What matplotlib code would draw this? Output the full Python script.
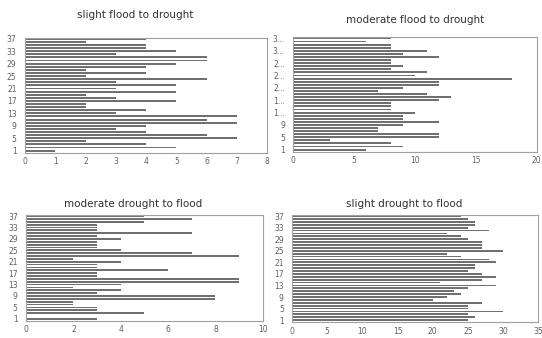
import numpy as np
import matplotlib.pyplot as plt

# bar values for categories 1..37 (bottom to top)
cats = np.arange(1, 38)

slight_flood_drought = [1, 5, 4, 2, 7, 6, 4, 3, 4, 7, 6, 7, 3, 4, 2, 2, 5, 3, 2, 5,
                        3, 5, 3, 6, 2, 4, 2, 4, 5, 6, 6, 3, 5, 4, 4, 2, 4]
moderate_flood_drought = [6, 9, 8, 3, 12, 12, 7, 7, 9, 12, 9, 9, 10, 8, 8, 8, 12, 13, 11, 7,
                          9, 12, 12, 18, 10, 11, 8, 9, 8, 8, 12, 9, 11, 8, 8, 6, 8]
moderate_drought_flood = [3, 0, 5, 3, 3, 2, 2, 8, 8, 3, 4, 2, 4, 9, 9, 3, 3, 6, 3, 3,
                          4, 2, 9, 7, 4, 3, 3, 3, 4, 3, 7, 3, 3, 3, 5, 7, 5]
slight_drought_flood = [25, 26, 25, 30, 25, 25, 27, 20, 22, 24, 23, 25, 29, 21, 27, 29, 27, 25, 26, 26,
                        29, 28, 24, 22, 30, 27, 27, 27, 25, 24, 22, 28, 25, 26, 26, 25, 24]

titles = ['slight flood to drought', 'moderate flood to drought',
          'moderate drought to flood', 'slight drought to flood']
ytick_pos = [1, 5, 9, 13, 17, 21, 25, 29, 33, 37]
ytick_labels = ['1', '5', '9', '13', '17', '21', '25', '29', '33', '37']
ytick_labels_short = ['1', '5', '9', '1...', '1...', '2...', '2...', '2...', '3...', '3...']

fig = plt.figure(figsize=(5.42, 3.38), dpi=100)

panels = [
    # data, rect, xmax, xstep, ylabels, title position
    (slight_flood_drought, [0.046, 0.547, 0.447, 0.342], 8, 1, ytick_labels, (0.25, 0.955)),
    (moderate_flood_drought, [0.541, 0.550, 0.449, 0.340], 20, 5, ytick_labels_short, (0.765, 0.94)),
    (moderate_drought_flood, [0.048, 0.050, 0.437, 0.314], 10, 2, ytick_labels, (0.245, 0.395)),
    (slight_drought_flood, [0.539, 0.046, 0.454, 0.318], 35, 5, ytick_labels, (0.745, 0.395)),
]

for (vals, rect, xmax, xstep, ylabs, tpos), title in zip(panels, titles):
    ax = fig.add_axes(rect)
    ax.barh(cats, vals, height=0.62, color='#707070')
    ax.set_xlim(0, xmax)
    ax.set_ylim(0.2, 37.4)
    ax.set_xticks(np.arange(0, xmax + 1, xstep))
    ax.set_yticks(ytick_pos)
    ax.set_yticklabels(ylabs)
    ax.tick_params(length=0, labelsize=5.5, colors='#606060')
    ax.tick_params(axis='x', pad=3)
    ax.tick_params(axis='y', pad=6)
    for s in ax.spines.values():
        s.set_color('#a0a0a0')
        s.set_linewidth(0.8)
    fig.text(tpos[0], tpos[1], title, ha='center', va='center', fontsize=7.5, color='#303030')

plt.savefig('out.png', dpi=100)
